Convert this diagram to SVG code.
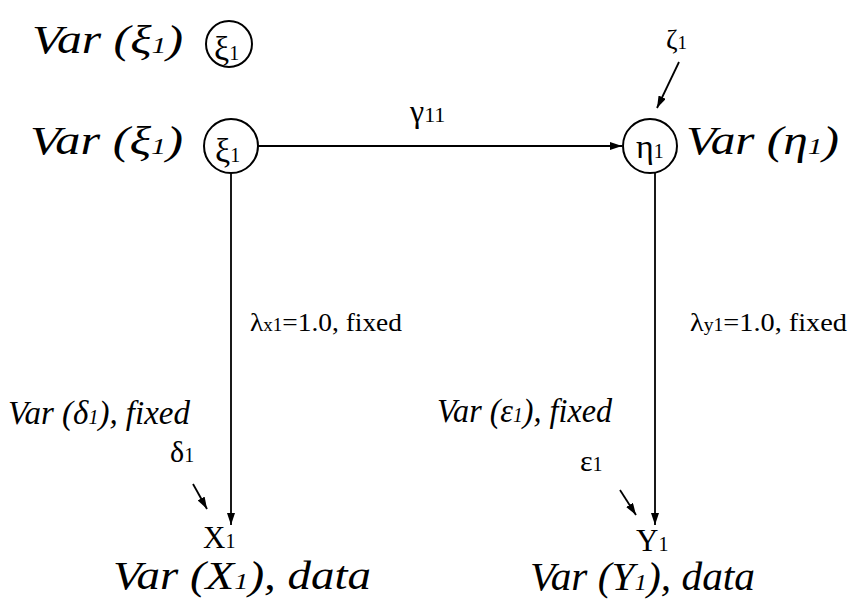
<svg xmlns="http://www.w3.org/2000/svg" width="849" height="600" viewBox="0 0 849 600">
<style>
.t{font-family:"Liberation Serif","Times New Roman",serif;fill:#000}
.i{font-style:italic}
.v{font-size:40px}
.f{font-size:33px}
.s{font-size:24px}
.node{fill:#fff;stroke:#000;stroke-width:2}
.edge{stroke:#000;stroke-width:1.8;fill:none}
</style>
<defs>
<marker id="ah" viewBox="0 0 12 8" refX="12" refY="4" markerWidth="12" markerHeight="8" markerUnits="userSpaceOnUse" orient="auto"><path d="M0,0 L12,4 L0,8 z" fill="#000"/></marker>
</defs>
<rect width="849" height="600" fill="#fff"/>
<g id="connectors">
<line class="edge" x1="258" y1="146" x2="622" y2="146" marker-end="url(#ah)"/>
<line class="edge" x1="231" y1="173" x2="231" y2="525" marker-end="url(#ah)"/>
<line class="edge" x1="655" y1="173" x2="655" y2="525" marker-end="url(#ah)"/>
<line class="edge" x1="679" y1="62" x2="657" y2="108" marker-end="url(#ah)"/>
<line class="edge" x1="193" y1="484" x2="207" y2="509" marker-end="url(#ah)"/>
<line class="edge" x1="620" y1="490" x2="636" y2="515" marker-end="url(#ah)"/>
<text class="t" x="410" y="122" font-size="32">γ<tspan font-size="22">11</tspan></text>
<text class="t" x="250" y="331" font-size="26" textLength="152" lengthAdjust="spacingAndGlyphs">λ<tspan font-size="18">x1</tspan>=1.0, fixed</text>
<text class="t" x="690" y="331" font-size="26" textLength="157" lengthAdjust="spacingAndGlyphs">λ<tspan font-size="18">y1</tspan>=1.0, fixed</text>
</g>
<g id="xi_var_top">
<text class="t i v" x="32" y="53" textLength="151" lengthAdjust="spacingAndGlyphs">Var (ξ<tspan class="s">1</tspan>)</text>
<circle class="node" cx="229" cy="44" r="23"/>
<text class="t" x="214" y="60" font-size="34">ξ<tspan font-size="20">1</tspan></text>
</g>
<g id="xi1">
<text class="t i v" x="30" y="154" textLength="153" lengthAdjust="spacingAndGlyphs">Var (ξ<tspan class="s">1</tspan>)</text>
<circle class="node" cx="231" cy="146" r="27"/>
<text class="t" x="215" y="162" font-size="34">ξ<tspan font-size="20">1</tspan></text>
</g>
<g id="eta1">
<circle class="node" cx="650" cy="146" r="27"/>
<text class="t" x="636" y="158" font-size="34">η<tspan font-size="20">1</tspan></text>
<text class="t i v" x="686" y="154" textLength="153" lengthAdjust="spacingAndGlyphs">Var (η<tspan class="s">1</tspan>)</text>
</g>
<g id="zeta1">
<text class="t" x="666" y="49" font-size="28">ζ<tspan font-size="19">1</tspan></text>
</g>
<g id="delta1">
<text class="t i f" x="8" y="424" textLength="182" lengthAdjust="spacingAndGlyphs">Var (δ<tspan font-size="20">1</tspan>), fixed</text>
<text class="t" x="170" y="462" font-size="30">δ<tspan font-size="20">1</tspan></text>
</g>
<g id="X1">
<text class="t" x="203" y="548" font-size="31">X<tspan font-size="20">1</tspan></text>
<text class="t i v" x="113" y="589" textLength="258" lengthAdjust="spacingAndGlyphs">Var (X<tspan class="s">1</tspan>), data</text>
</g>
<g id="eps1">
<text class="t i f" x="437" y="422" textLength="175" lengthAdjust="spacingAndGlyphs">Var (ε<tspan font-size="20">1</tspan>), fixed</text>
<text class="t" x="580" y="471" font-size="30">ε<tspan font-size="20">1</tspan></text>
</g>
<g id="Y1">
<text class="t" x="636" y="551" font-size="31">Y<tspan font-size="20">1</tspan></text>
<text class="t i v" x="530" y="590" textLength="225" lengthAdjust="spacingAndGlyphs">Var (Y<tspan class="s">1</tspan>), data</text>
</g>
</svg>
